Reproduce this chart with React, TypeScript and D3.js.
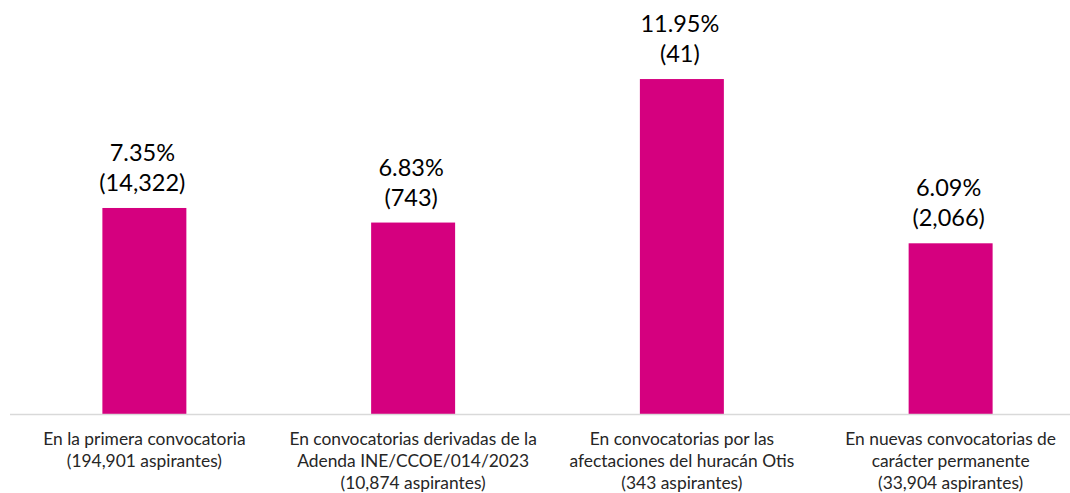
import React from "react";
import * as d3 from "d3";

const categories: string[][] = [
  ["En la primera convocatoria", "(194,901 aspirantes)"],
  ["En convocatorias derivadas de la", "Adenda INE/CCOE/014/2023", "(10,874 aspirantes)"],
  ["En convocatorias por las", "afectaciones del huracán Otis", "(343 aspirantes)"],
  ["En nuevas convocatorias de", "carácter permanente", "(33,904 aspirantes)"],
];
const percentages: number[] = [7.35, 6.83, 11.95, 6.09];
const counts: string[] = ["14,322", "743", "41", "2,066"];

const W = 1070;
const H = 493;
const BASE = 414;
const COLOR = "#D5007F";
const FONT = "Lato, 'Open Sans', sans-serif";

export default function App() {
  const ids = categories.map((_, i) => String(i));
  const x = d3.scaleBand<string>().domain(ids).range([10, 1085]).paddingInner(0.6875).paddingOuter(0.34375);
  const y = d3.scaleLinear().domain([0, 14]).range([BASE, BASE - 14 * 28.03]);

  return (
    <svg width={W} height={H} style={{ position: "absolute", left: 0, top: 0, background: "#fff" }}>
      {ids.map((id, i) => {
        const x0 = x(id)!;
        const cx = x0 + x.bandwidth() / 2;
        const top = y(percentages[i]);
        return (
          <g key={id}>
            <rect x={x0} y={top} width={x.bandwidth()} height={BASE - top} fill={COLOR} />
            <text x={cx - 2} y={top - 47} textAnchor="middle" fontFamily={FONT} fontSize={23.5} fill="#000">
              {percentages[i].toFixed(2) + "%"}
            </text>
            <text x={cx - 2} y={top - 17} textAnchor="middle" fontFamily={FONT} fontSize={23.5} fill="#000">
              {"(" + counts[i] + ")"}
            </text>
            {categories[i].map((line, j) => (
              <text key={j} x={cx} y={445 + j * 22} textAnchor="middle" fontFamily={FONT} fontSize={17.4} fill="#262626">
                {line}
              </text>
            ))}
          </g>
        );
      })}
      <line x1={10} x2={1085} y1={BASE + 0.5} y2={BASE + 0.5} stroke="#D9D9D9" strokeWidth={1.5} />
    </svg>
  );
}
